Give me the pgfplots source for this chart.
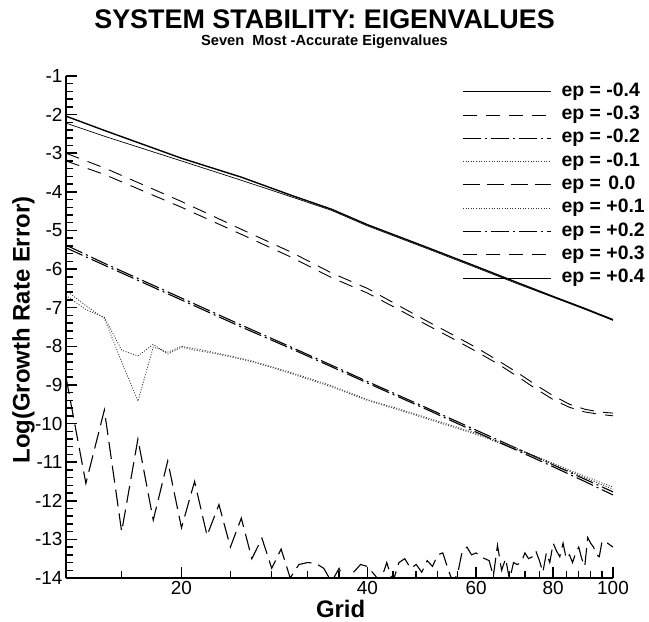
\documentclass[border=0pt]{standalone}
\usepackage{fontspec}
\setmainfont{Liberation Sans}
\usepackage{pgfplots}
\pgfplotsset{compat=1.18}
\begin{document}
\begin{tikzpicture}
\begin{axis}[
  name=ax,
  scale only axis, width=547bp, height=502bp,
  xmode=log, xmin=13, xmax=100, ymin=-14, ymax=-1,
  axis lines*=left,
  axis line style={line width=1.6bp, black},
  xtick={20,40,60,80,100}, xticklabels={20,40,60,80,100},
  minor xtick={16,24,28,32,36,44,48,52,56,64,68,72,76,84,88,92,96},
  ytick={-14,-13,...,-1}, minor y tick num=4,
  tick align=inside,
  major tick length=11bp, minor tick length=7bp,
  every tick/.append style={black, line width=1.5bp},
  /pgf/number format/assume math mode=true,
  tick label style={font=\fontsize{19}{21}\selectfont},
  xlabel={Grid}, ylabel={Log(Growth Rate Error)},
  label style={font=\fontsize{24}{27}\selectfont\bfseries},
  xlabel style={at={(axis description cs:0.502,-0.062)}, anchor=center},
  ylabel style={at={(axis description cs:-0.0777,0.494)}, anchor=center},
  legend style={draw=none, fill=none, at={(axis description cs:0.724,0.988)}, anchor=north west,
    font=\fontsize{19.5}{21}\selectfont\bfseries, inner sep=0pt, row sep=4.3bp,
    nodes={inner sep=1bp, text height=13bp, text depth=4bp}},
  legend cell align=left,
  legend image code/.code={\draw[#1] (0bp,0bp) -- (88bp,0bp); \path (97bp,0bp);},
]
% ep = -0.4
\addplot[black, line width=1.4bp] coordinates {
(13,-2.04)(15,-2.41)(20,-3.13)(25,-3.62)(30,-4.08)(35,-4.45)(40,-4.85)(50,-5.44)(60,-5.93)(70,-6.35)(80,-6.71)(90,-7.02)(100,-7.31)};
\addlegendentry{ep = -0.4}
% ep = -0.3
\addplot[black, line width=0.9bp, dash pattern=on 14bp off 9bp] coordinates {
(13,-3.0)(15,-3.38)(20,-4.25)(25,-4.97)(30,-5.55)(35,-6.1)(40,-6.5)(45,-6.95)(50,-7.35)(55,-7.7)(60,-8.03)(65,-8.36)(70,-8.68)(75,-9.0)(80,-9.28)(85,-9.5)(90,-9.63)(95,-9.7)(100,-9.73)};
\addlegendentry{ep = -0.3}
% ep = -0.2
\addplot[black, line width=1.1bp, dash pattern=on 18bp off 4bp on 2bp off 4bp] coordinates {
(13,-5.38)(15,-5.85)(20,-6.75)(25,-7.45)(30,-8.01)(35,-8.49)(40,-8.91)(50,-9.6)(60,-10.17)(70,-10.65)(80,-11.07)(90,-11.44)(100,-11.77)};
\addlegendentry{ep = -0.2}
% ep = -0.1
\addplot[black!80, line width=0.8bp, dash pattern=on 1bp off 1.6bp] coordinates {
(13,-6.55)(14,-6.95)(15,-7.28)(16,-8.4)(17,-9.42)(18,-8.02)(19,-8.15)(20,-8.0)(21,-8.06)(22,-8.12)(24,-8.25)(26,-8.38)(28,-8.53)(30,-8.67)(35,-9.02)(40,-9.38)(45,-9.62)(50,-9.85)(60,-10.25)(70,-10.65)(80,-11.03)(90,-11.36)(100,-11.65)};
\addlegendentry{ep = -0.1}
% ep = 0.0
\addplot[black, line width=1.1bp, dash pattern=on 17bp off 7bp] coordinates {
(13,-8.8)(14,-11.55)(15,-9.65)(16,-12.8)(17,-10.4)(18,-12.5)(19,-10.97)(20,-12.7)(21,-11.5)(22,-12.9)(23,-12.1)(24,-13.2)(25,-12.45)(26,-13.5)(27,-12.97)(28,-13.75)(29,-13.25)
(30,-14.0)(31,-13.65)(32,-13.6)(33,-13.62)(34,-13.75)(35,-14.1)(36,-13.75)(37,-14.2)(38,-13.85)(39,-13.65)
(40,-13.7)(41,-13.9)(42,-14.1)(43,-13.6)(44,-14.1)(45,-13.6)(46,-13.5)(47,-13.75)(48,-13.65)(49,-13.85)
(50,-13.55)(51,-13.7)(52,-13.4)(53,-13.35)(54,-13.75)(55,-14.1)(56,-13.9)(57,-13.3)(58,-13.2)(59,-13.4)
(60,-13.35)(61,-13.45)(62,-13.5)(63,-13.55)(64,-13.95)(65,-13.15)(66,-13.8)(67,-13.5)(68,-14.05)(69,-13.6)
(70,-13.65)(71,-13.6)(72,-13.35)(73,-13.5)(74,-13.45)(75,-13.3)(76,-13.55)(77,-13.85)(78,-13.35)(79,-13.6)
(80,-13.1)(81,-13.3)(82,-13.45)(83,-13.1)(84,-13.5)(85,-13.4)(86,-13.6)(87,-13.35)(88,-13.2)(89,-13.5)
(90,-13.7)(91,-12.95)(92,-13.1)(93,-13.2)(94,-13.4)(95,-13.45)(96,-13.05)(97,-13.1)(98,-13.1)(99,-13.15)(100,-13.2)};
\addlegendentry{ep = \kern2bp 0.0}
% ep = +0.1
\addplot[black!80, line width=0.8bp, dash pattern=on 1bp off 1.6bp] coordinates {
(13,-6.68)(14,-7.05)(15,-7.25)(16,-8.1)(17,-8.25)(18,-7.95)(19,-8.2)(20,-8.02)(21,-8.1)(22,-8.15)(24,-8.27)(26,-8.4)(28,-8.55)(30,-8.7)(35,-9.05)(40,-9.4)(45,-9.65)(50,-9.88)(60,-10.28)(70,-10.68)(80,-11.06)(90,-11.4)(100,-11.7)};
\addlegendentry{ep = +0.1}
% ep = +0.2
\addplot[black, line width=1.1bp, dash pattern=on 18bp off 4bp on 2bp off 4bp] coordinates {
(13,-5.45)(15,-5.9)(20,-6.8)(25,-7.5)(30,-8.05)(35,-8.53)(40,-8.95)(50,-9.64)(60,-10.22)(70,-10.7)(80,-11.12)(90,-11.5)(100,-11.85)};
\addlegendentry{ep = +0.2}
% ep = +0.3
\addplot[black, line width=0.9bp, dash pattern=on 14bp off 9bp] coordinates {
(13,-3.2)(15,-3.55)(20,-4.4)(25,-5.1)(30,-5.68)(35,-6.22)(40,-6.62)(45,-7.05)(50,-7.45)(55,-7.8)(60,-8.13)(65,-8.45)(70,-8.78)(75,-9.1)(80,-9.38)(85,-9.58)(90,-9.7)(95,-9.76)(100,-9.8)};
\addlegendentry{ep = +0.3}
% ep = +0.4
\addplot[black, line width=0.7bp] coordinates {
(13,-2.22)(15,-2.56)(20,-3.2)(25,-3.7)(30,-4.12)(35,-4.48)(40,-4.88)(50,-5.47)(60,-5.96)(70,-6.38)(80,-6.73)(90,-7.04)(100,-7.33)};
\addlegendentry{ep = +0.4}
\end{axis}
\node[anchor=base, font=\fontsize{27}{30}\selectfont\bfseries] at ([shift={(258.5bp,549bp)}]ax.south west) {SYSTEM STABILITY: EIGENVALUES};
\node[anchor=base, font=\fontsize{14.7}{16}\selectfont\bfseries] at ([shift={(258.5bp,532bp)}]ax.south west) {Seven\ \ Most -Accurate Eigenvalues};
\pgfresetboundingbox
\path ([shift={(-66bp,-44bp)}]ax.south west) rectangle ([shift={(583bp,578bp)}]ax.south west);
\end{tikzpicture}
\end{document}
